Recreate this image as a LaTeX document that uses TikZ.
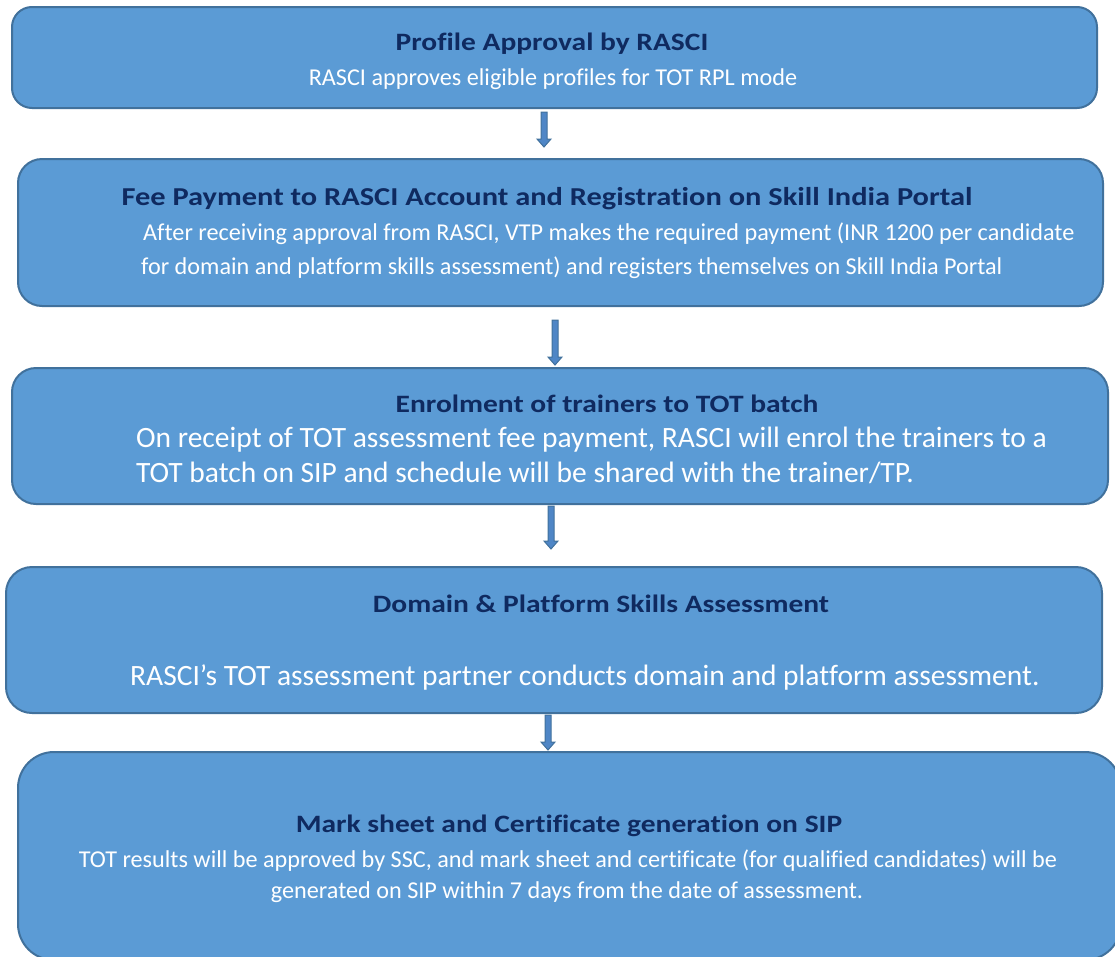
\documentclass[tikz,border=0pt]{standalone}
\usepackage{fontspec}
\setmainfont{Carlito}[Ligatures=NoCommon]
\newfontfamily\ttlfont{Carlito}[FakeStretch=1.18, Ligatures=NoCommon]
\usetikzlibrary{calc}
\definecolor{boxfill}{HTML}{5B9BD5}
\definecolor{boxedge}{HTML}{41719C}
\definecolor{titlecol}{HTML}{0F2A60}
\definecolor{arrfill}{HTML}{4F86C6}
\tikzset{
  stepbox/.style={draw=boxedge, fill=boxfill, line width=2pt, rounded corners=#1, anchor=north west, inner sep=0pt},
  ttl/.style={anchor=base, text=titlecol, font=\ttlfont\bfseries\fontsize{#1}{#1}\selectfont, inner sep=0pt},
  bdy/.style={anchor=base, text=white, font=\fontsize{#1}{#1}\selectfont, inner sep=0pt},
  bdyl/.style={anchor=base west, text=white, font=\fontsize{#1}{#1}\selectfont, inner sep=0pt},
  arrbody/.style={fill=arrfill, draw=boxedge, line width=1pt, line join=miter}
}
\newcommand\flowarr[2]{%
  \filldraw[arrbody] ($(#1)+(-3,0)$) -- ($(#2)+(-3,-8)$) -- ($(#2)+(-7,-8)$) -- (#2)
    -- ($(#2)+(7,-8)$) -- ($(#2)+(3,-8)$) -- ($(#1)+(3,0)$) -- cycle;}
\begin{document}
\begin{tikzpicture}[x=1pt,y=-1pt]
\useasboundingbox (0,0) rectangle (1115,956);
% boxes
\node[stepbox=20pt, minimum width=1085pt, minimum height=101pt] (b1) at (11,6) {};
\node[stepbox=24pt, minimum width=1085pt, minimum height=147pt] (b2) at (17,158) {};
\node[stepbox=24pt, minimum width=1096pt, minimum height=136pt] (b3) at (11,367) {};
\node[stepbox=26pt, minimum width=1096pt, minimum height=146pt] (b4) at (5,566) {};
\node[stepbox=36pt, minimum width=1103pt, minimum height=208pt] (b5) at (17,751) {};
% texts box 1
\node[ttl=25] (t1) at (552,50) {Profile Approval by RASCI};
\node[bdy=24.2] (d1) at (553,85) {RASCI approves eligible profiles for TOT RPL mode};
% box 2
\node[ttl=25.8] (t2) at (547,205) {Fee Payment to RASCI Account and Registration on Skill India Portal};
\node[bdyl=24.2] (d2a) at (143,240) {After receiving approval from RASCI, VTP makes the required payment (INR 1200 per candidate};
\node[bdyl=24.2] (d2b) at (141,274) {for domain and platform skills assessment) and registers themselves on Skill India Portal};
% box 3
\node[ttl=25] (t3) at (607,412) {Enrolment of trainers to TOT batch};
\node[bdyl=29.5] (d3a) at (136,447) {On receipt of TOT assessment fee payment, RASCI will enrol the trainers to a};
\node[bdyl=29.5] (d3b) at (136,482) {TOT batch on SIP and schedule will be shared with the trainer/TP.};
% box 4
\node[ttl=25] (t4) at (601,612) {Domain \& Platform Skills Assessment};
\node[bdyl=29.5] (d4) at (130,685) {RASCI’s TOT assessment partner conducts domain and platform assessment.};
% box 5
\node[ttl=25] (t5) at (569,832) {Mark sheet and Certificate generation on SIP};
\node[bdy=24.2] (d5a) at (568,867) {TOT results will be approved by SSC, and mark sheet and certificate (for qualified candidates) will be};
\node[bdy=24.2] (d5b) at (567,898) {generated on SIP within 7 days from the date of assessment.};
% arrows
\coordinate (a1s) at ($(b1.south -| 544,0)+(0,3)$);
\coordinate (a1e) at ($(b2.north -| 544,0)+(0,-11)$);
\coordinate (a2s) at ($(b2.south -| 555,0)+(0,13)$);
\coordinate (a2e) at ($(b3.north -| 555,0)+(0,-2)$);
\coordinate (a3s) at ($(b3.south -| 551,0)+(0,1)$);
\coordinate (a3e) at ($(b4.north -| 551,0)+(0,-17)$);
\coordinate (a4s) at ($(b4.south -| 548,0)+(0,1)$);
\coordinate (a4e) at ($(b5.north -| 548,0)+(0,-1)$);
\flowarr{a1s}{a1e}
\flowarr{a2s}{a2e}
\flowarr{a3s}{a3e}
\flowarr{a4s}{a4e}
\end{tikzpicture}
\end{document}
